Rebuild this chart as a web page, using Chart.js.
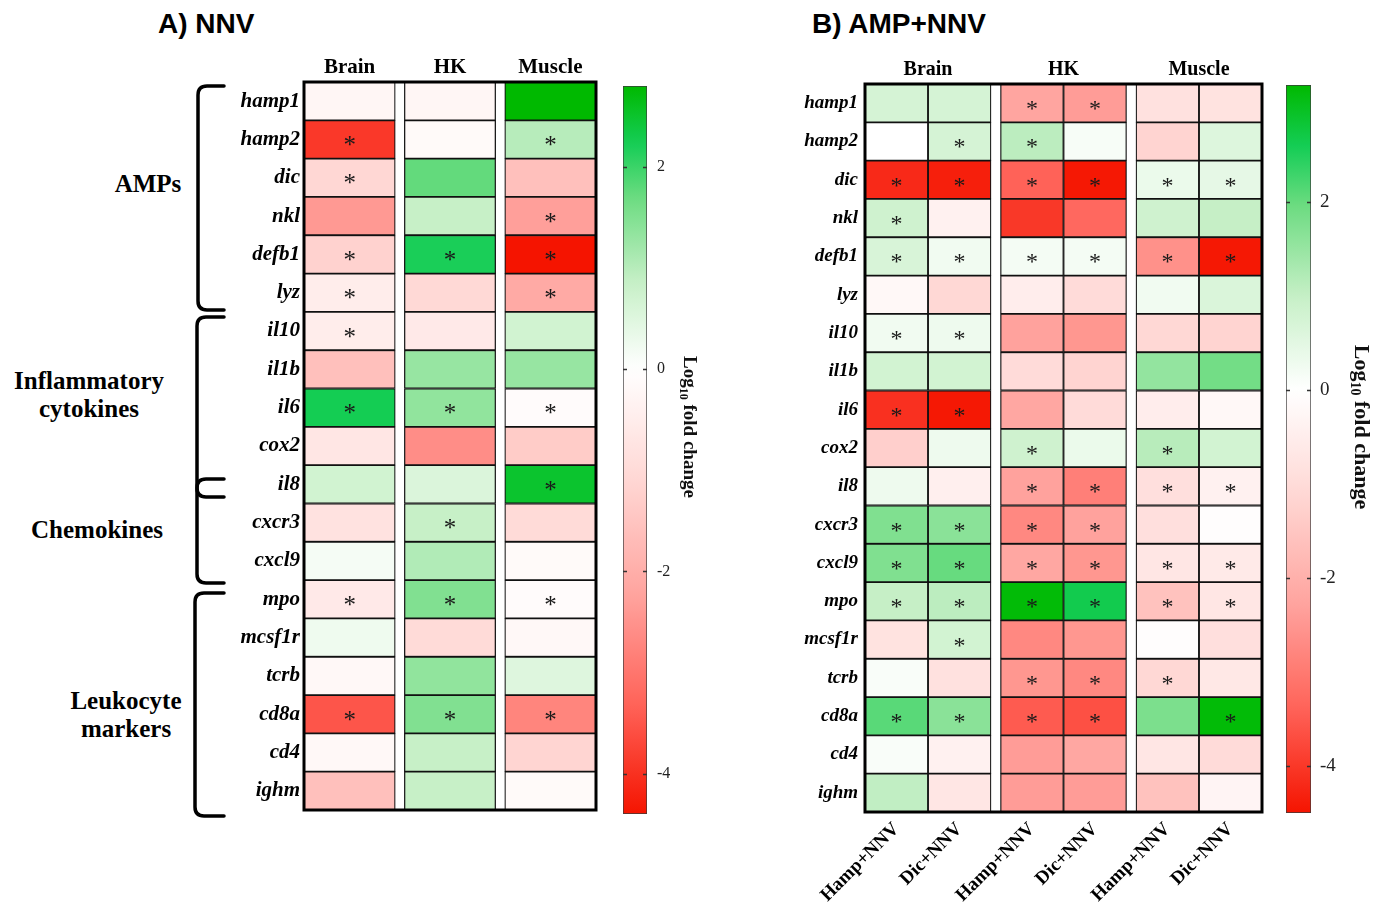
<!DOCTYPE html>
<html>
<head>
<meta charset="utf-8">
<title>Gene expression heatmaps: NNV and AMP+NNV</title>
<script src="https://cdn.jsdelivr.net/npm/chart.js@4.4.1/dist/chart.umd.min.js"></script>
<style>
  html, body { margin: 0; padding: 0; background: #fff; }
  #page { position: relative; width: 1379px; height: 902px; overflow: hidden; background: #fff; }
  #page canvas { position: absolute; }
  #page svg { position: absolute; left: 0; top: 0; }
</style>
</head>
<body>
<div id="page">
  <svg width="1379" height="902" font-family="'Liberation Serif', 'Times New Roman', serif">
    <text x="158" y="33" font-family="'Liberation Sans', Arial, sans-serif" font-weight="bold" font-size="28">A) NNV</text>
    <text x="812" y="33" font-family="'Liberation Sans', Arial, sans-serif" font-weight="bold" font-size="28">B) AMP+NNV</text>
    <g font-weight="bold" font-size="25" text-anchor="middle">
      <text x="148" y="192">AMPs</text>
      <text x="89" y="389">Inflammatory</text>
      <text x="89" y="417">cytokines</text>
      <text x="97" y="538">Chemokines</text>
      <text x="126" y="709">Leukocyte</text>
      <text x="126" y="737">markers</text>
    </g>
    <!-- gene family brackets -->
    <g fill="none" stroke="#000" stroke-width="3.5" stroke-linecap="round" stroke-linejoin="round">
      <path d="M224 86 L207 86 Q198 86 198 95 L198 301 Q198 310 207 310 L224 310"/>
      <path d="M224 317 L206 317 Q197 317 197 326 L197 488 Q197 497 206 497 L224 497"/>
      <path d="M224 479 L206 479 Q197 479 197 488 L197 574 Q197 583 206 583 L224 583"/>
      <path d="M224 593 L204 593 Q195 593 195 602 L195 807 Q195 816 204 816 L224 816"/>
    </g>
  </svg>
  <canvas id="heatA" width="420" height="800" style="left:190px;top:30px"></canvas>
  <canvas id="barA" width="110" height="780" style="left:600px;top:60px"></canvas>
  <canvas id="heatB" width="520" height="872" style="left:760px;top:30px"></canvas>
  <canvas id="barB" width="114" height="780" style="left:1265px;top:60px"></canvas>
</div>
<script>
// ---- data -------------------------------------------------------------
const genes = ['hamp1', 'hamp2', 'dic', 'nkl', 'defb1', 'lyz', 'il10', 'il1b', 'il6', 'cox2',
               'il8', 'cxcr3', 'cxcl9', 'mpo', 'mcsf1r', 'tcrb', 'cd8a', 'cd4', 'ighm'];
const tissues = ['Brain', 'HK', 'Muscle'];
const treatments = ['Hamp+NNV', 'Dic+NNV'];
const scaleTicks = [2, 0, -2, -4];
const rangeNNV = [-4.4, 2.8];
const rangeAMP = [-4.5, 3.25];

// log10 fold change, NNV infection
const nnvBrain  = [-0.25, -3.9, -1.1, -2.4, -1.2, -0.5, -0.5, -1.6, 2.25, -0.7, 0.7, -0.8, 0.15, -0.6, 0.25, -0.2, -3.5, -0.2, -1.6];
const nnvHK     = [-0.25, -0.15, 1.75, 0.85, 2.2, -1.05, -0.6, 1.3, 1.35, -2.6, 0.55, 0.85, 1.05, 1.5, -1.0, 1.35, 1.5, 0.85, 0.85];
const nnvMuscle = [2.8, 1.0, -1.6, -2.3, -4.4, -2.1, 0.7, 1.3, -0.1, -1.35, 2.5, -1.0, -0.15, -0.1, -0.2, 0.5, -2.75, -1.15, -0.15];
const nnvBrainSig  = [0, 1, 1, 0, 1, 1, 1, 0, 1, 0, 0, 0, 0, 1, 0, 0, 1, 0, 0];
const nnvHKSig     = [0, 0, 0, 0, 1, 0, 0, 0, 1, 0, 0, 1, 0, 1, 0, 0, 1, 0, 0];
const nnvMuscleSig = [0, 1, 0, 1, 1, 1, 0, 0, 1, 0, 1, 0, 0, 1, 0, 0, 1, 0, 0];

// log10 fold change, AMP pre-treatment followed by NNV
const ampBrainHamp  = [0.75, 0, -4.2, 0.85, 0.7, -0.2, 0.25, 0.8, -4.1, -1.3, 0.3, 1.75, 1.75, 1.0, -0.8, 0.1, 2.1, 0.1, 1.05];
const ampBrainDic   = [0.75, 0.75, -4.35, -0.4, 0.25, -1.1, 0.3, 0.8, -4.45, 0.3, -0.45, 1.65, 2.0, 1.1, 0.8, -0.85, 1.65, -0.4, -0.7];
const ampHKHamp     = [-2.25, 1.1, -3.4, -4.0, 0.2, -0.5, -2.3, -1.0, -2.2, 0.85, -2.3, -2.75, -2.2, 3.2, -2.75, -2.5, -3.5, -2.4, -2.4];
const ampHKDic      = [-2.4, 0.15, -4.45, -3.3, 0.2, -1.0, -2.5, -1.2, -1.0, 0.35, -2.9, -2.3, -2.5, 2.65, -2.5, -2.75, -3.65, -2.2, -2.4];
const ampMuscleHamp = [-0.85, -1.2, 0.35, 0.85, -2.6, 0.25, -1.1, 1.55, -0.5, 1.15, -0.9, -0.9, -0.7, -1.6, -0.05, -1.1, 1.8, -0.7, -1.6];
const ampMuscleDic  = [-0.8, 0.6, 0.45, 1.0, -4.45, 0.65, -1.2, 1.9, -0.2, 0.8, -0.4, -0.05, -0.6, -0.7, -0.9, -0.65, 3.2, -1.0, -0.3];
const ampBrainHampSig  = [0, 0, 1, 1, 1, 0, 1, 0, 1, 0, 0, 1, 1, 1, 0, 0, 1, 0, 0];
const ampBrainDicSig   = [0, 1, 1, 0, 1, 0, 1, 0, 1, 0, 0, 1, 1, 1, 1, 0, 1, 0, 0];
const ampHKHampSig     = [1, 1, 1, 0, 1, 0, 0, 0, 0, 1, 1, 1, 1, 1, 0, 1, 1, 0, 0];
const ampHKDicSig      = [1, 0, 1, 0, 1, 0, 0, 0, 0, 0, 1, 1, 1, 1, 0, 1, 1, 0, 0];
const ampMuscleHampSig = [0, 0, 1, 0, 1, 0, 0, 0, 0, 1, 1, 0, 1, 1, 0, 1, 0, 0, 0];
const ampMuscleDicSig  = [0, 0, 1, 0, 1, 0, 0, 0, 0, 0, 1, 0, 1, 1, 0, 0, 1, 0, 0];

// ---- colour scale (white at 0, green up, red down) ---------------------
const POS_STOPS = [[0, [255, 255, 255]], [0.3, [200, 240, 200]], [0.6, [110, 220, 130]], [0.8, [20, 205, 85]], [1, [0, 185, 0]]];
const NEG_STOPS = [[0, [255, 255, 255]], [0.25, [255, 215, 212]], [0.5, [255, 165, 160]], [0.75, [255, 100, 90]], [1, [245, 20, 0]]];

function ramp(stops, t) {
  t = Math.max(0, Math.min(1, t));
  for (let k = 1; k < stops.length; k++) {
    if (t <= stops[k][0]) {
      const [t0, c0] = stops[k - 1], [t1, c1] = stops[k];
      const f = (t - t0) / (t1 - t0);
      return c0.map((v, i) => Math.round(v + (c1[i] - v) * f));
    }
  }
  return stops[stops.length - 1][1];
}
function heatColor(v, lo, hi) {
  const c = v >= 0 ? ramp(POS_STOPS, v / hi) : ramp(NEG_STOPS, v / lo);
  return 'rgb(' + c[0] + ',' + c[1] + ',' + c[2] + ')';
}

// ---- shared defaults ---------------------------------------------------
Chart.defaults.font.family = "'Liberation Serif', 'Times New Roman', serif";
Chart.defaults.color = '#000';
Chart.defaults.animation = false;

// outer frame around the cell grid
const gridFrame = {
  id: 'gridFrame',
  afterDatasetsDraw(chart, args, opts) {
    const a = chart.chartArea, c = chart.ctx;
    c.save();
    c.lineWidth = opts.width;
    c.strokeStyle = '#000';
    c.strokeRect(a.left, a.top, a.right - a.left, a.bottom - a.top);
    c.restore();
  }
};

// significance asterisks centred on the flagged cells
const cellStars = {
  id: 'cellStars',
  afterDatasetsDraw(chart, args, opts) {
    const c = chart.ctx;
    c.save();
    c.fillStyle = '#1a1a1a';
    c.font = opts.size + "px 'Liberation Serif', 'Times New Roman', serif";
    c.textAlign = 'center';
    c.textBaseline = 'alphabetic';
    chart.data.datasets.forEach((ds, j) => {
      chart.getDatasetMeta(j).data.forEach((bar, i) => {
        if (ds.sig[i]) c.fillText('*', (bar.x + bar.base) / 2, bar.y + opts.size * 0.5 + opts.dy);
      });
    });
    c.restore();
  }
};

function heatmap(id, spec) {
  const cols = spec.columns.map((col, j) => {
    const start = j + col.group * spec.gap;
    return Object.assign({}, col, { start: start, end: start + 1 });
  });
  const xMax = cols[cols.length - 1].end;
  const colCenters = cols.map(c => (c.start + c.end) / 2);
  const groupCenters = spec.groups.map((g, k) => {
    const m = cols.filter(c => c.group === k);
    return (m[0].start + m[m.length - 1].end) / 2;
  });
  const lo = spec.range[0], hi = spec.range[1];

  const headerAxis = {
    type: 'linear', axis: 'x', position: 'top', min: 0, max: xMax,
    grid: { display: false, drawTicks: false }, border: { display: false },
    afterBuildTicks(s) { s.ticks = groupCenters.map(v => ({ value: v })); },
    afterFit(s) { s.height = spec.headerHeight; },
    ticks: {
      autoSkip: false, minRotation: 0, maxRotation: 0, padding: spec.headerPad, color: '#000',
      font: { size: spec.headerSize, weight: 'bold' },
      callback: (v, i) => spec.groups[i]
    }
  };
  const scales = {
    y: {
      type: 'category', offset: true,
      grid: { display: false, drawTicks: false }, border: { display: false },
      afterFit(s) { s.width = spec.labelWidth; },
      ticks: { autoSkip: false, padding: spec.labelPad, color: '#000',
               font: { size: spec.labelSize, style: 'italic', weight: 'bold' } }
    }
  };
  if (spec.columnLabels) {
    scales.x = {
      type: 'linear', position: 'bottom', min: 0, max: xMax,
      grid: { display: false, drawTicks: false }, border: { display: false },
      afterBuildTicks(s) { s.ticks = colCenters.map(v => ({ value: v })); },
      afterFit(s) { s.height = spec.footHeight; },
      ticks: {
        autoSkip: false, minRotation: 45, maxRotation: 45, padding: spec.footPad, color: '#000',
        font: { size: spec.footSize, weight: 'bold' },
        callback: (v, i) => spec.columnLabels[i]
      }
    };
    scales.xTop = headerAxis;
  } else {
    scales.x = headerAxis;
  }

  return new Chart(document.getElementById(id), {
    type: 'bar',
    data: {
      labels: genes,
      datasets: cols.map(col => ({
        label: col.name,
        data: genes.map(() => [col.start, col.end]),
        sig: col.sig,
        backgroundColor: ctx => heatColor(col.values[ctx.dataIndex], lo, hi),
        borderColor: '#111',
        borderWidth: spec.cellBorder,
        borderSkipped: false,
        barPercentage: 1,
        categoryPercentage: 1,
        grouped: false
      }))
    },
    options: {
      indexAxis: 'y',
      responsive: false,
      animation: false,
      layout: { padding: spec.padding },
      plugins: {
        legend: { display: false },
        tooltip: { enabled: false },
        gridFrame: { width: 3 },
        cellStars: { size: spec.starSize, dy: spec.starDy }
      },
      scales: scales
    },
    plugins: [gridFrame, cellStars]
  });
}

// small tick dashes on both inner edges of the colour bar
const barTickMarks = {
  id: 'barTickMarks',
  afterDatasetsDraw(chart) {
    const a = chart.chartArea, y = chart.scales.y, c = chart.ctx;
    c.save();
    c.strokeStyle = '#333';
    c.lineWidth = 1.5;
    y.ticks.forEach(t => {
      const py = Math.round(y.getPixelForValue(t.value)) + 0.5;
      c.beginPath();
      c.moveTo(a.left, py); c.lineTo(a.left + 4, py);
      c.moveTo(a.right - 4, py); c.lineTo(a.right, py);
      c.stroke();
    });
    c.restore();
  }
};

// rotated "Log10 fold change" caption with subscript
const barCaption = {
  id: 'barCaption',
  afterDraw(chart, args, opts) {
    const c = chart.ctx, s = opts.size;
    const fam = "'Liberation Serif', 'Times New Roman', serif";
    const big = 'bold ' + s + 'px ' + fam, small = 'bold ' + Math.round(s * 0.64) + 'px ' + fam;
    c.save();
    c.fillStyle = '#111';
    c.textBaseline = 'middle';
    c.textAlign = 'left';
    c.font = big; const w1 = c.measureText('Log').width; const w3 = c.measureText(' fold change').width;
    c.font = small; const w2 = c.measureText('10').width;
    const total = w1 + w2 + w3;
    c.translate(opts.x, opts.y);
    c.rotate(Math.PI / 2);
    let x0 = -total / 2;
    c.font = big; c.fillText('Log', x0, 0);
    c.font = small; c.fillText('10', x0 + w1, s * 0.3);
    c.font = big; c.fillText(' fold change', x0 + w1 + w2, 0);
    c.restore();
  }
};

function colorBar(id, range, spec) {
  const lo = range[0], hi = range[1];
  return new Chart(document.getElementById(id), {
    type: 'bar',
    data: {
      labels: ['log10 fold change'],
      datasets: [{
        data: [[lo, hi]],
        backgroundColor(ctx) {
          const ch = ctx.chart;
          if (!ch.chartArea) return '#fff';
          const ys = ch.scales.y;
          const g = ch.ctx.createLinearGradient(0, ys.getPixelForValue(lo), 0, ys.getPixelForValue(hi));
          const n = 60;
          for (let k = 0; k <= n; k++) g.addColorStop(k / n, heatColor(lo + (hi - lo) * k / n, lo, hi));
          return g;
        },
        borderColor: '#3a3a3a',
        borderWidth: 1,
        borderSkipped: false,
        barPercentage: 1,
        categoryPercentage: 1
      }]
    },
    options: {
      responsive: false,
      animation: false,
      layout: { padding: spec.padding },
      plugins: {
        legend: { display: false },
        tooltip: { enabled: false },
        barCaption: { x: spec.captionX, y: spec.captionY, size: spec.captionSize }
      },
      scales: {
        x: { display: false },
        y: {
          position: 'right', min: lo, max: hi,
          grid: { display: false, drawTicks: false }, border: { display: false },
          afterBuildTicks(s) { s.ticks = scaleTicks.map(v => ({ value: v })); },
          afterFit(s) { s.width = spec.axisWidth; },
          ticks: { padding: spec.tickPad, color: '#222', font: { size: spec.tickSize } }
        }
      }
    },
    plugins: [barTickMarks, barCaption]
  });
}

// ---- panel A: NNV -------------------------------------------------------
heatmap('heatA', {
  range: rangeNNV,
  gap: 0.1,
  groups: tissues,
  columns: [
    { name: 'Brain',  group: 0, values: nnvBrain,  sig: nnvBrainSig },
    { name: 'HK',     group: 1, values: nnvHK,     sig: nnvHKSig },
    { name: 'Muscle', group: 2, values: nnvMuscle, sig: nnvMuscleSig }
  ],
  padding: { left: 0, right: 14, top: 0, bottom: 20 },
  labelWidth: 114, labelPad: 4, labelSize: 21,
  headerHeight: 52, headerPad: 2, headerSize: 21,
  cellBorder: 1.25, starSize: 25, starDy: 1
});
colorBar('barA', rangeNNV, {
  padding: { left: 23, right: 20, top: 26, bottom: 26 },
  axisWidth: 43, tickPad: 10, tickSize: 16,
  captionX: 89, captionY: 367, captionSize: 19
});

// ---- panel B: AMP + NNV -------------------------------------------------
heatmap('heatB', {
  range: rangeAMP,
  gap: 0.15,
  groups: tissues,
  columnLabels: [treatments[0], treatments[1], treatments[0], treatments[1], treatments[0], treatments[1]],
  columns: [
    { name: 'Brain Hamp+NNV',  group: 0, values: ampBrainHamp,  sig: ampBrainHampSig },
    { name: 'Brain Dic+NNV',   group: 0, values: ampBrainDic,   sig: ampBrainDicSig },
    { name: 'HK Hamp+NNV',     group: 1, values: ampHKHamp,     sig: ampHKHampSig },
    { name: 'HK Dic+NNV',      group: 1, values: ampHKDic,      sig: ampHKDicSig },
    { name: 'Muscle Hamp+NNV', group: 2, values: ampMuscleHamp, sig: ampMuscleHampSig },
    { name: 'Muscle Dic+NNV',  group: 2, values: ampMuscleDic,  sig: ampMuscleDicSig }
  ],
  padding: { left: 0, right: 18, top: 0, bottom: 0 },
  labelWidth: 105, labelPad: 7, labelSize: 19,
  headerHeight: 54, headerPad: 2, headerSize: 20,
  footHeight: 90, footPad: 6, footSize: 19,
  cellBorder: 1.25, starSize: 24, starDy: 1
});
colorBar('barB', rangeAMP, {
  padding: { left: 21, right: 23, top: 25, bottom: 27 },
  axisWidth: 45, tickPad: 9, tickSize: 19,
  captionX: 96, captionY: 367, captionSize: 22
});
</script>
</body>
</html>
